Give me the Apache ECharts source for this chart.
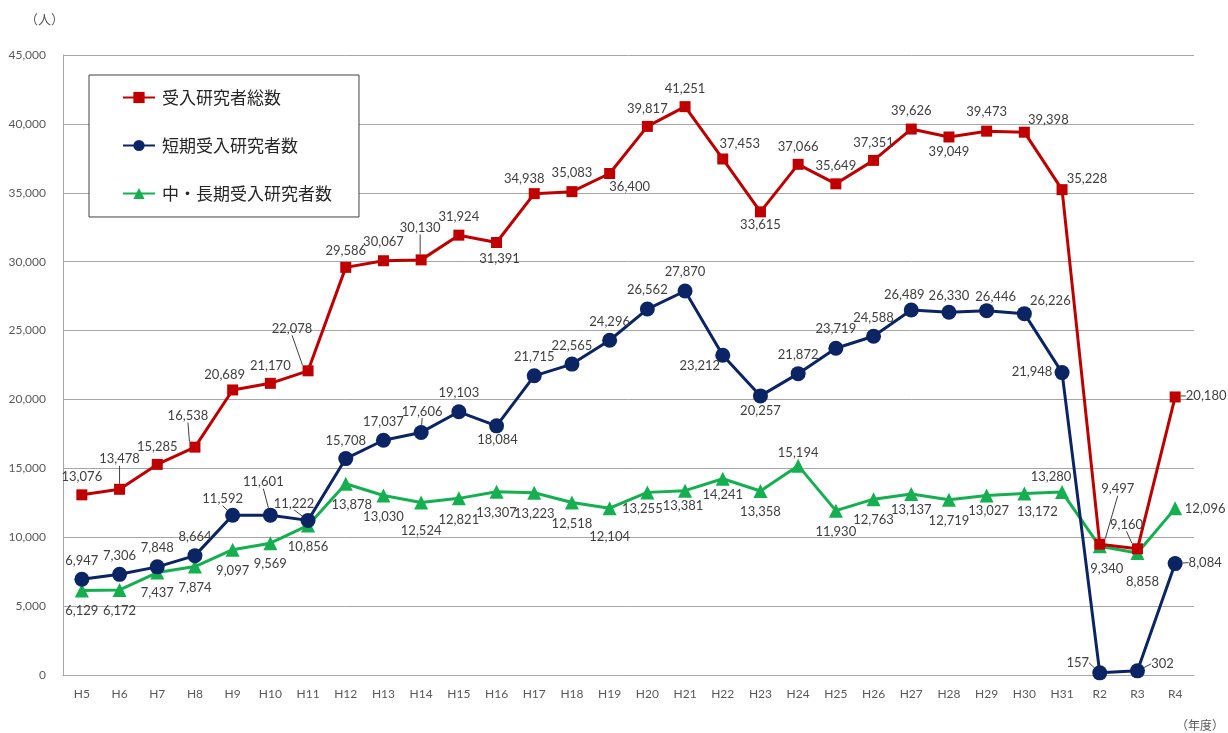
<!DOCTYPE html>
<html><head><meta charset="utf-8">
<script src="https://cdn.jsdelivr.net/npm/echarts@6/dist/echarts.min.js"></script>
<style>html,body{margin:0;padding:0;background:#fff}#c{width:1228px;height:733px}</style>
</head><body><div id="c"></div>
<script>
const categories = ['H5','H6','H7','H8','H9','H10','H11','H12','H13','H14','H15','H16','H17','H18','H19','H20','H21','H22','H23','H24','H25','H26','H27','H28','H29','H30','H31','R2','R3','R4'];
const seriesNames = ['受入研究者総数','短期受入研究者数','中・長期受入研究者数'];
const totalValues = [13076,13478,15285,16538,20689,21170,22078,29586,30067,30130,31924,31391,34938,35083,36400,39817,41251,37453,33615,37066,35649,37351,39626,39049,39473,39398,35228,9497,9160,20180];
const shortValues = [6947,7306,7848,8664,11592,11601,11222,15708,17037,17606,19103,18084,21715,22565,24296,26562,27870,23212,20257,21872,23719,24588,26489,26330,26446,26226,21948,157,302,8084];
const midLongValues = [6129,6172,7437,7874,9097,9569,10856,13878,13030,12524,12821,13307,13223,12518,12104,13255,13381,14241,13358,15194,11930,12763,13137,12719,13027,13172,13280,9340,8858,12096];
const yTicks = {min:0, max:45000, interval:5000};

// label placement (pixel offsets of label centre from point) and leader flags
const totalOff = [[0,-18],[0,-30],[0,-18],[-7,-31],[-8,-15],[0,-18],[-16,-42],[0,-17],[0,-19],[-1,-32],[0,-18],[3,16],[-10,-15],[0,-19],[20,13],[0,-18],[0,-18],[17,-15],[0,13],[0,-18],[0,-18],[0,-18],[0,-18],[0,15],[0,-19],[24,-12],[25,-11],[18,-55],[-11,-24],[31,-1]];
const totalLead = [1,3,6,9,27,28,29];
const shortOff = [[0,-18],[0,-19],[0,-19],[0,-19],[-10,-16],[-7,-33],[-14,-17],[0,-18],[0,-18],[1,-21],[0,-19],[1,14],[0,-19],[0,-18],[0,-18],[0,-19],[0,-19],[-23,11],[0,15],[0,-19],[0,-19],[0,-18],[-7,-15],[0,-16],[9,-14],[26,-13],[-30,-1],[-22,-10],[25,-7],[30,-1]];
const shortLead = [4,5,6,9,27,28,29];
const midOff = [[0,20],[0,21],[0,20],[0,21],[0,21],[0,21],[0,21],[6,21],[0,21],[0,28],[0,21],[0,21],[0,21],[0,21],[0,29],[-5,16],[-2,15],[0,16],[0,21],[0,-13],[0,21],[0,21],[0,16],[0,21],[2,15],[13,18],[-11,-15],[7,22],[5,29],[30,0]];
const midLead = [];
const offs = [totalOff, shortOff, midOff];
const leads = [totalLead, shortLead, midLead];

const NUMFONT = 'Lato, "Liberation Sans", sans-serif';
const CJK = '"Noto Sans CJK JP", sans-serif';
const colors = ['#C00000','#0B2463','#14B050'];
const fmt = v => v.toLocaleString('en-US');

function mkSeries(idx, values, symbol, size, z){
  return {
    name: seriesNames[idx], type:'line', data: values.map((v,i)=>({value:v, labelLine:{show: leads[idx].indexOf(i)>=0}})),
    symbol: symbol, symbolSize: size, z: z,
    lineStyle:{color:colors[idx], width:3}, itemStyle:{color:colors[idx]},
    label:{show:true, position:'inside', color:'#404040', fontFamily:NUMFONT, fontSize:13, formatter:p=>fmt(p.value)},
    labelLine:{show:false, lineStyle:{color:'#404040', width:1}},
    labelLayout: function(p){
      const o = offs[idx][p.dataIndex];
      const cx = p.rect.x + p.rect.width/2, cy = p.rect.y + p.rect.height/2;
      const res = {dx:o[0], dy:o[1]};
      if (leads[idx].indexOf(p.dataIndex)>=0){
        const Lx = cx+o[0], Ly = cy+o[1];
        const hw = p.labelRect.width/2, hh = p.labelRect.height/2 - 2;
        const ddx = -o[0], ddy = -o[1];
        const t = Math.min(ddx? hw/Math.abs(ddx):1e9, ddy? hh/Math.abs(ddy):1e9);
        const ex = Lx + t*ddx, ey = Ly + t*ddy;
        const len = Math.hypot(o[0],o[1]);
        const sx = cx + o[0]/len*3, sy = cy + o[1]/len*3;
        res.labelLinePoints = [[sx,sy],[ex,ey],[ex,ey]];
      }
      return res;
    },
    emphasis:{disabled:true}, animation:false
  };
}

const chart = echarts.init(document.getElementById('c'));
chart.setOption({
  animation:false,
  backgroundColor:'#fff',
  title:{text:'（人）', left:20, top:8, textStyle:{fontFamily:CJK, fontSize:13, fontWeight:'normal', color:'#595959'}},
  graphic:[{type:'text', right:4, bottom:2, style:{text:'（年度）', font:'12px "Noto Sans CJK JP"', fill:'#595959'}}],
  legend:{
    data:seriesNames, orient:'vertical', left:89, top:75, itemGap:31, itemWidth:32, itemHeight:14,
    padding:[14,27,15,33], borderColor:'#404040', borderWidth:1, backgroundColor:'#fff',
    textStyle:{fontFamily:CJK, fontSize:17, color:'#262626', padding:[0,0,0,2]}, selectedMode:false
  },
  grid:{left:63, right:34, top:55, bottom:58},
  xAxis:{type:'category', data:categories, boundaryGap:true,
    axisLine:{show:true, lineStyle:{color:'#A6A6A6'}}, axisTick:{show:false},
    axisLabel:{fontFamily:NUMFONT, fontSize:12, color:'#595959', margin:13}},
  yAxis:{type:'value', min:yTicks.min, max:yTicks.max, interval:yTicks.interval,
    axisLine:{show:true, lineStyle:{color:'#A6A6A6'}}, axisTick:{show:false},
    splitLine:{lineStyle:{color:'#A6A6A6', width:1}},
    axisLabel:{fontFamily:NUMFONT, fontSize:12, color:'#595959', margin:17, formatter:v=>fmt(v)}},
  series:[
    mkSeries(0, totalValues, 'rect', 11, 5),
    mkSeries(1, shortValues, 'circle', 15, 4),
    mkSeries(2, midLongValues, 'triangle', 14, 3)
  ]
});
</script></body></html>
